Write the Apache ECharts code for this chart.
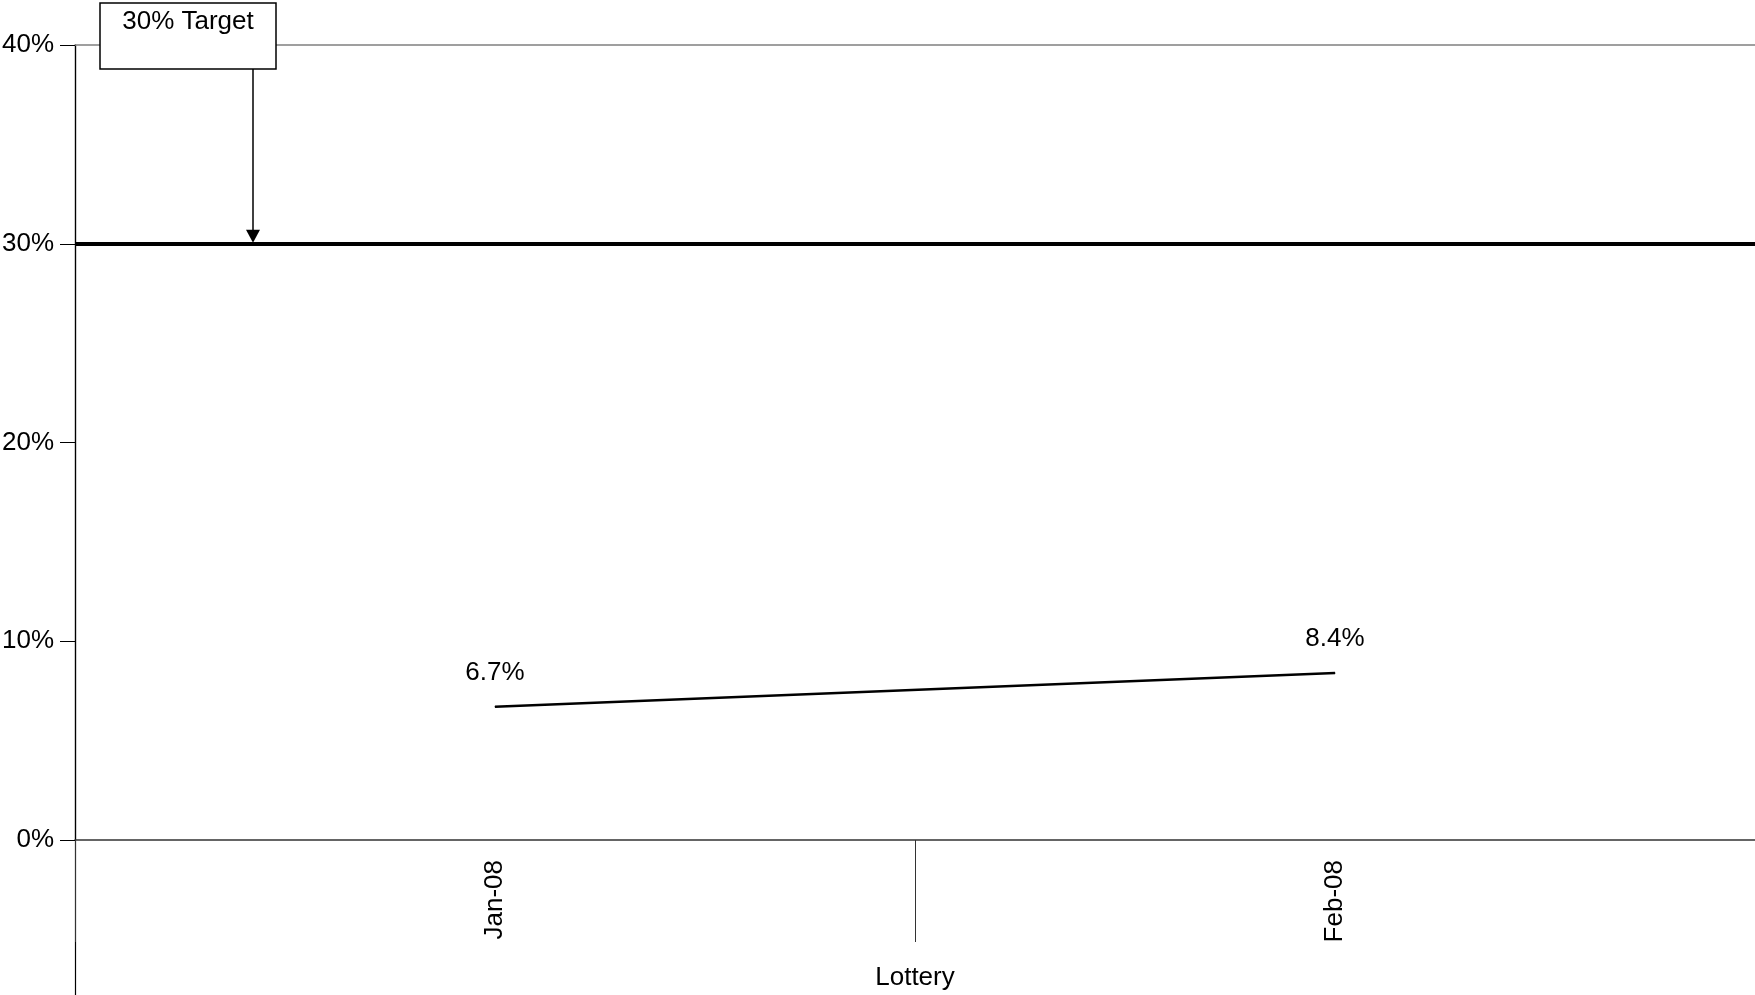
<!DOCTYPE html>
<html>
<head>
<meta charset="utf-8">
<script src="https://cdn.jsdelivr.net/npm/echarts@6/dist/echarts.min.js"></script>
<style>
  html, body { margin: 0; padding: 0; background: #fff; }
  #chart { width: 1755px; height: 995px; }
</style>
</head>
<body>
<div id="chart"></div>
<script>
// ---- data ----
const categories = ['Jan-08', 'Feb-08'];
const lotteryValues = [6.7, 8.4];
const targetValue = 30;
const targetLabel = '30% Target';
const axisName = 'Lottery';
const yMin = 0, yMax = 40, yInterval = 10;

const FONT = '"Liberation Sans", Arial, sans-serif';
const FS = 26;
const chart = echarts.init(document.getElementById('chart'), null, { renderer: 'canvas' });

const gridTop = 45, gridLeft = 75, gridBottom = 155;

const option = {
  animation: false,
  backgroundColor: '#ffffff',
  textStyle: { fontFamily: FONT },
  grid: [
    { left: gridLeft, right: 0, top: gridTop, bottom: gridBottom, containLabel: false, outerBoundsMode: 'none' },
    // full-height strip: carries the value-axis line on below the category axis, as in the reference
    { left: gridLeft, width: 10, top: gridTop, bottom: 0, containLabel: false, outerBoundsMode: 'none' }
  ],
  xAxis: [{
    type: 'category',
    gridIndex: 0,
    data: categories,
    boundaryGap: true,
    position: 'bottom',
    name: axisName,
    nameLocation: 'middle',
    nameGap: 125,
    nameTextStyle: { fontSize: FS, color: '#000', fontFamily: FONT },
    axisLine: { onZero: false, lineStyle: { color: '#333', width: 1.5 } },
    axisTick: { show: true, length: 102, lineStyle: { color: '#333', width: 1 } },
    axisLabel: { rotate: 90, margin: 20, fontSize: FS, color: '#000', fontFamily: FONT },
    splitLine: { show: false }
  }, {
    type: 'category',
    gridIndex: 0,
    data: categories,
    position: 'top',
    axisLine: { onZero: false, lineStyle: { color: '#808080', width: 1.5 } },
    axisTick: { show: false },
    axisLabel: { show: false },
    splitLine: { show: false }
  }, {
    type: 'value',
    gridIndex: 1,
    show: false
  }],
  yAxis: [{
    type: 'value',
    gridIndex: 0,
    min: yMin, max: yMax, interval: yInterval,
    axisLine: { show: true, onZero: false, lineStyle: { color: '#000', width: 1.2 } },
    axisTick: { show: true, length: 15, lineStyle: { color: '#000', width: 1 } },
    axisLabel: {
      margin: 21, fontSize: FS, color: '#000', fontFamily: FONT,
      formatter: v => v + '%'
    },
    splitLine: { show: false }
  }, {
    type: 'value',
    gridIndex: 1,
    min: 0, max: 1,
    axisLine: { show: true, onZero: false, lineStyle: { color: '#000', width: 1.2 } },
    axisTick: { show: false },
    axisLabel: { show: false },
    splitLine: { show: false }
  }],
  series: [{
    type: 'line',
    data: lotteryValues,
    xAxisIndex: 0,
    yAxisIndex: 0,
    symbol: 'circle',
    symbolSize: 1,
    itemStyle: { color: '#000' },
    lineStyle: { color: '#000', width: 2.5 },
    label: {
      show: true, position: 'top', distance: 21,
      fontSize: FS, color: '#000', fontFamily: FONT,
      formatter: p => p.value.toFixed(1) + '%'
    },
    markLine: {
      silent: true,
      symbol: 'none',
      label: { show: false },
      lineStyle: { color: '#000', width: 4, type: 'solid' },
      data: [{ yAxis: targetValue }]
    }
  }]
};
chart.setOption(option);

// ---- annotation box + arrow pointing at the target line ----
const tipY = chart.convertToPixel({ yAxisIndex: 0 }, targetValue);
const boxX = gridLeft + 25, boxY = 3, boxW = 176, boxH = 66;
const arrowX = gridLeft + 178;
chart.setOption({
  graphic: [
    {
      type: 'rect', z: 100,
      shape: { x: boxX, y: boxY, width: boxW, height: boxH },
      style: { fill: '#fff', stroke: '#000', lineWidth: 1.5 }
    },
    {
      type: 'text', z: 101,
      x: boxX + boxW / 2, y: boxY + 19,
      style: { text: targetLabel, fontSize: FS, fontFamily: FONT, fill: '#000', align: 'center', verticalAlign: 'middle' }
    },
    {
      type: 'line', z: 100,
      shape: { x1: arrowX, y1: boxY + boxH, x2: arrowX, y2: tipY - 12 },
      style: { stroke: '#000', lineWidth: 1.5 }
    },
    {
      type: 'polygon', z: 100,
      shape: { points: [[arrowX - 7, tipY - 14], [arrowX + 7, tipY - 14], [arrowX, tipY - 1]] },
      style: { fill: '#000' }
    }
  ]
});
</script>
</body>
</html>
